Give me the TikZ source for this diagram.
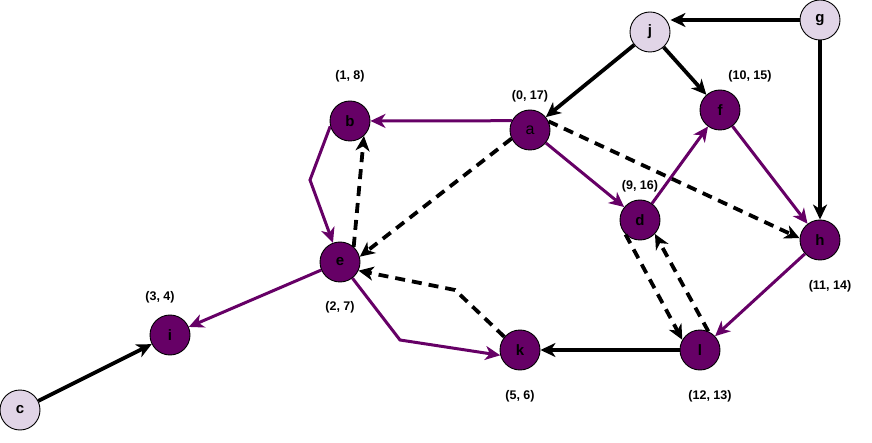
\documentclass[tikz,border=0pt]{standalone}
\usepackage{fontspec}
\setmainfont{Liberation Sans}
\usetikzlibrary{arrows.meta}
\definecolor{vtxpurple}{HTML}{660066}
\definecolor{vtxlight}{HTML}{E1D5E7}

\begin{document}
\begin{tikzpicture}[x=1pt, y=-1pt,
  vtx/.style={circle, draw=black, line width=0.9pt, fill=vtxpurple, minimum size=40pt, inner sep=0pt, font=\fontsize{15}{17}\selectfont\bfseries},
  src/.style={vtx, fill=vtxlight},
  lbl/.style={font=\fontsize{12.5}{14}\selectfont\bfseries},
  tip/.style={-{Stealth[length=15pt, width=14pt, inset=4.5pt]}},
  blk/.style={tip, line width=3.8pt, black},
  pur/.style={tip, line width=3pt, vtxpurple},
  dsh/.style={tip, line width=3.8pt, black, dash pattern={on 10pt off 7pt}}]
\useasboundingbox (0,0) rectangle (872,443);
% vertices
\node[src] (j) at (650,32) {j};
\node[src] (g) at (820,20) {g};
\node[src] (c) at (20,410) {c};
\node[vtx, font=\fontsize{16}{18}\selectfont] (a) at (530,130) {a};
\node[vtx] (b) at (350,121) {b};
\node[vtx] (f) at (720,110) {f};
\node[vtx] (d) at (640,220) {d};
\node[vtx] (h) at (820,240) {h};
\node[vtx] (e) at (340,262) {e};
\node[vtx] (i) at (170,335) {i};
\node[vtx] (k) at (520,350) {k};
\node[vtx] (l) at (700,350) {l};
% times
\node[lbl] (ta) at (530,96) {(0, 17)};
\node[lbl] (tb) at (350,76) {(1, 8)};
\node[lbl] (te) at (340,307) {(2, 7)};
\node[lbl] (ti) at (160,297) {(3, 4)};
\node[lbl] (tk) at (520,396) {(5, 6)};
\node[lbl] (td) at (640,186) {(9, 16)};
\node[lbl] (tf) at (750,76) {(10, 15)};
\node[lbl] (th) at (830,286) {(11, 14)};
\node[lbl] (tl) at (710,396) {(12, 13)};
% bends
\coordinate (be) at (310,180);
\coordinate (ek) at (400,340);
\coordinate (ke) at (455,290);
% tree edges
\draw[blk] (g.west) -- (g.west -| j.east);
\draw[blk] (g) -- (h);
\draw[blk] (j) -- (a);
\draw[blk] (j) -- (f);
\draw[blk] (c) -- (i);
\draw[blk] (l) -- (k);
\draw[pur] (a.153) -- (b);
\draw[pur] (a) -- (d);
\draw[pur] (d) -- (f);
\draw[pur] (f) -- (h);
\draw[pur] (h) -- (l);
\draw[pur] (e) -- (i);
\draw[pur] (b.195) -- (be) -- (e);
\draw[pur] (e) -- (ek) -- (k.195);
% other edges
\draw[dsh] (a.205) -- (e.15);
\draw[dsh] (a.25) -- (h.175);
\draw[dsh] (e.48) -- (b.313);
\draw[dsh] (k.140) -- (ke) -- (e.335);
\draw[dsh] (d.225) -- (l.150);
\draw[dsh] (l.66) -- (d.317);
\end{tikzpicture}
\end{document}
